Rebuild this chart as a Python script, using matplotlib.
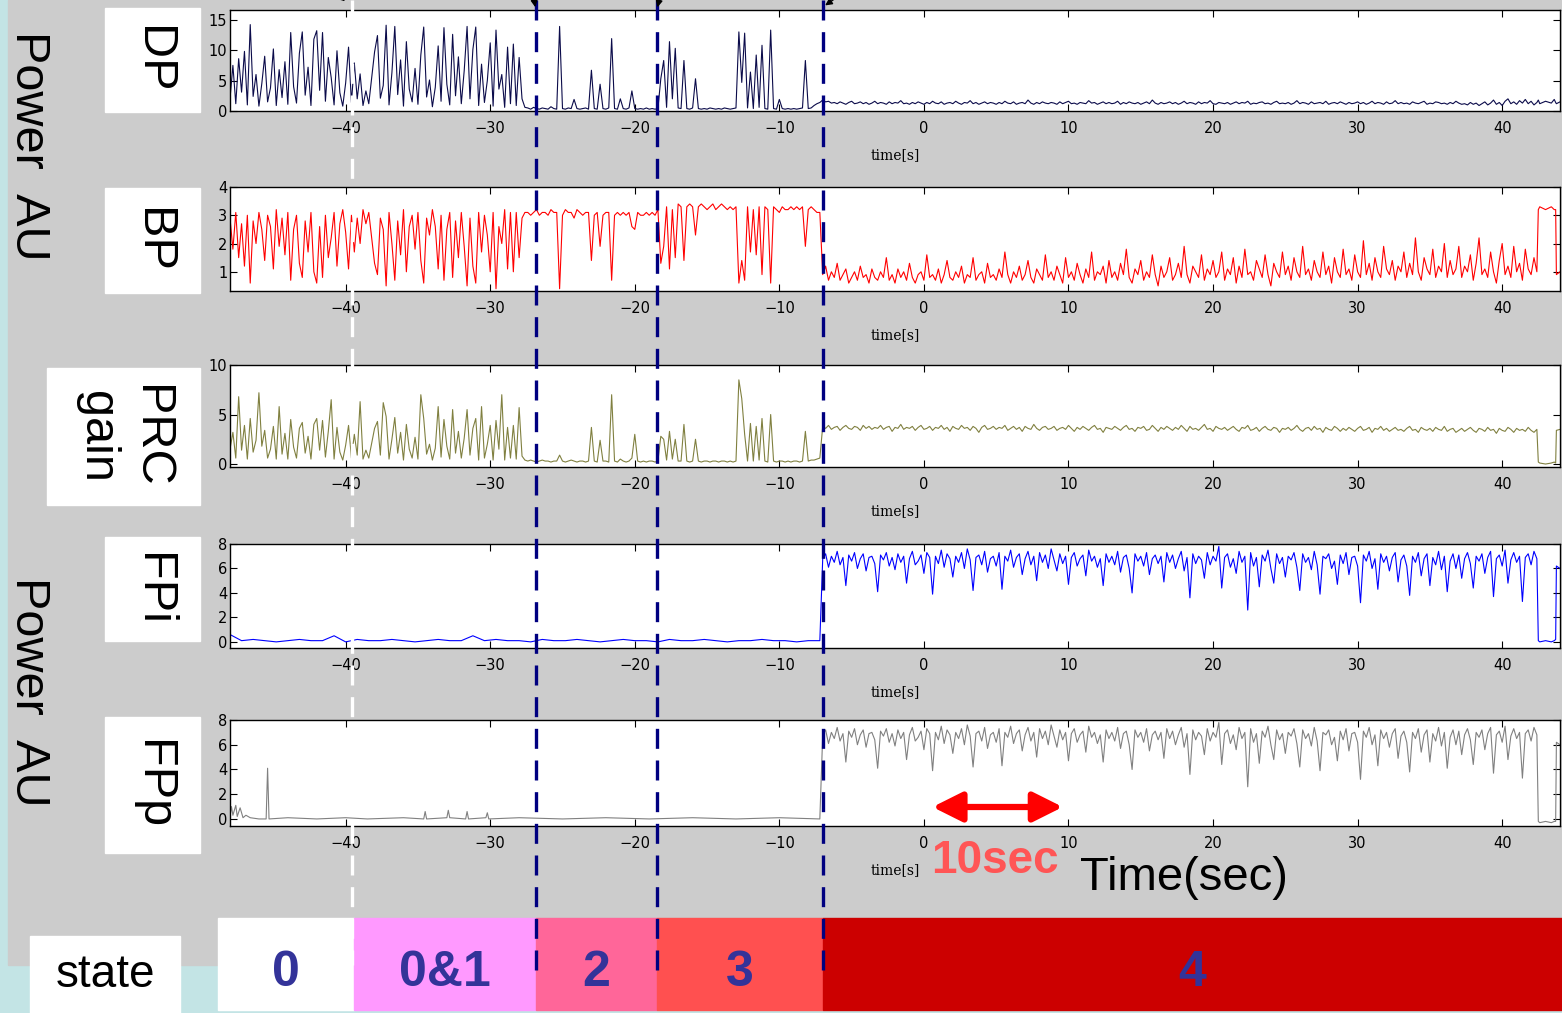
import numpy as np
import matplotlib.pyplot as plt
from matplotlib.patches import Rectangle

# ---------------- data (time in s) ----------------
# burst phase, -48.0 .. -27.6 s
dp_burst = [2.0, 7.5, 1.2, 8.6, 3.1, 9.8, 1.0, 14.2, 2.4, 6.0,
            0.8, 4.5, 9.0, 1.5, 3.8, 10.2, 0.9, 6.8, 2.2, 8.1,
            1.1, 12.9, 4.0, 1.3, 9.5, 13.0, 2.6, 7.2, 0.9, 11.8,
            13.2, 3.4, 12.9, 1.6, 8.8, 5.5, 1.0, 9.9, 3.0, 0.8,
            4.6, 10.5, 1.4, 7.9, 2.0, 6.1, 0.9, 3.3, 1.2, 5.4,
            9.7, 12.4, 2.1, 4.2, 14.1, 1.0, 6.3, 13.9, 2.7, 8.4,
            0.8, 11.4, 3.6, 1.5, 7.0, 1.1, 9.2, 13.8, 2.3, 5.1,
            0.7, 3.9, 10.7, 1.6, 13.7, 4.4, 1.0, 12.6, 2.5, 8.9,
            1.2, 6.6, 13.9, 2.0, 10.1, 13.8, 0.9, 7.7, 1.4, 5.0,
            11.2, 0.8, 13.3, 3.6, 6.0, 0.6, 10.5, 1.2, 11.0, 0.9,
            8.8, 2.0, 0.6]
bp_burst = [2.9, 1.8, 3.1, 1.5, 2.7, 1.2, 3.0, 0.6, 2.8, 2.0,
            3.1, 2.5, 1.4, 3.0, 2.6, 1.1, 3.2, 1.9, 2.9, 1.6,
            3.1, 0.7, 2.5, 3.0, 1.3, 0.8, 2.8, 1.7, 3.1, 1.0,
            0.6, 2.6, 0.8, 3.0, 1.5, 2.2, 3.1, 1.2, 2.7, 3.2,
            2.4, 1.1, 3.0, 1.7, 2.9, 2.0, 3.2, 2.7, 3.1, 2.2,
            1.3, 0.9, 2.9, 2.5, 0.5, 3.1, 2.0, 0.7, 2.8, 1.6,
            3.2, 1.0, 2.6, 3.0, 1.8, 3.1, 1.4, 0.6, 2.9, 2.3,
            3.2, 2.6, 1.1, 3.0, 0.7, 2.5, 3.1, 0.8, 2.8, 1.5,
            3.1, 1.9, 0.5, 2.9, 1.2, 0.6, 3.1, 1.7, 3.0, 2.3,
            1.0, 3.1, 0.4, 2.6, 2.0, 3.2, 1.1, 3.1, 1.0, 3.1,
            1.5, 2.9, 3.1]
prc_burst = [1.5, 3.2, 0.6, 6.8, 1.4, 3.9, 0.5, 4.6, 1.2, 2.4,
             7.2, 1.8, 3.4, 0.6, 1.5, 3.8, 0.5, 5.8, 1.0, 3.1,
             0.5, 4.5, 1.7, 0.6, 3.6, 4.2, 1.1, 2.8, 0.5, 4.0,
             4.6, 1.4, 4.4, 0.7, 3.3, 6.5, 0.5, 3.7, 1.2, 0.4,
             1.9, 3.9, 0.6, 3.0, 0.9, 6.3, 0.5, 1.4, 0.6, 2.1,
             3.6, 4.3, 0.9, 6.2, 4.8, 0.5, 2.5, 4.7, 1.1, 3.2,
             0.4, 4.0, 1.5, 0.6, 2.7, 0.5, 7.0, 4.6, 1.0, 2.0,
             0.4, 1.6, 5.8, 0.7, 4.5, 1.8, 0.5, 5.5, 1.1, 3.3,
             0.6, 2.6, 5.5, 0.9, 3.6, 4.6, 0.4, 5.8, 0.6, 2.0,
             3.9, 0.4, 4.4, 1.5, 7.0, 0.4, 3.7, 0.6, 3.9, 0.5,
             5.7, 0.8, 0.4]

# quiet phase with isolated events, -27.4 .. -7.2 s
dp_quiet = [0.5, 0.3, 0.6, 0.4, 0.3, 0.5, 0.4, 0.3, 0.7, 0.4,
            0.3, 13.9, 0.4, 0.3, 0.5, 0.4, 1.9, 0.4, 0.3, 0.4,
            0.5, 0.3, 6.7, 0.4, 0.3, 4.4, 0.4, 0.3, 0.5, 11.9,
            0.4, 0.3, 2.0, 0.4, 0.3, 0.5, 3.3, 0.4, 0.3, 0.4,
            0.3, 0.5, 0.3, 0.4, 0.3, 0.4, 5.3, 8.3, 0.6, 11.4,
            2.0, 10.3, 0.5, 0.4, 8.3, 0.4, 0.3, 0.5, 5.3, 0.4,
            0.3, 0.4, 0.3, 0.5, 0.4, 0.3, 0.4, 0.3, 0.5, 0.4,
            0.3, 0.4, 0.5, 13.0, 4.7, 12.8, 0.5, 6.4, 0.4, 9.2,
            0.6, 10.8, 0.4, 0.3, 13.3, 0.4, 0.3, 1.9, 0.4, 0.3,
            0.4, 0.3, 0.4, 0.3, 0.4, 0.5, 8.3, 0.4, 0.5, 0.9,
            1.2, 1.4]
bp_quiet = [3.1, 3.0, 3.1, 3.2, 3.0, 3.1, 3.1, 3.0, 3.2, 3.1,
            3.1, 0.4, 3.0, 3.2, 3.1, 3.1, 2.9, 3.2, 3.1, 3.0,
            3.1, 3.1, 1.4, 3.0, 3.1, 1.9, 3.0, 3.1, 3.1, 0.7,
            3.0, 3.1, 3.0, 3.1, 3.0, 3.1, 2.6, 2.5, 3.1, 3.0,
            3.0, 3.1, 3.0, 3.1, 3.0, 3.2, 1.3, 1.9, 3.3, 1.1,
            3.2, 1.5, 3.4, 3.3, 1.4, 3.3, 3.4, 3.3, 2.3, 3.3,
            3.4, 3.3, 3.2, 3.3, 3.4, 3.2, 3.3, 3.4, 3.3, 3.2,
            3.3, 3.2, 3.3, 0.6, 1.4, 0.7, 3.3, 1.7, 3.2, 1.6,
            3.3, 0.9, 3.3, 3.2, 0.6, 3.3, 3.2, 3.1, 3.3, 3.2,
            3.2, 3.3, 3.2, 3.3, 3.2, 3.3, 1.9, 3.2, 3.3, 3.2,
            3.1, 3.1]
prc_quiet = [0.3, 0.4, 0.3, 0.2, 0.3, 0.4, 0.3, 0.3, 0.2, 0.3,
             0.3, 0.9, 0.3, 0.2, 0.3, 0.4, 0.3, 0.2, 0.3, 0.3,
             0.2, 0.3, 3.7, 0.3, 0.2, 2.4, 0.3, 0.3, 0.2, 7.0,
             0.3, 0.2, 0.5, 0.3, 0.2, 0.3, 0.6, 3.0, 0.3, 0.2,
             0.3, 0.2, 0.3, 0.3, 0.2, 0.3, 2.8, 2.5, 0.4, 3.3,
             0.5, 2.5, 0.3, 0.3, 4.0, 0.3, 0.2, 0.3, 2.5, 0.3,
             0.2, 0.3, 0.3, 0.2, 0.3, 0.3, 0.2, 0.3, 0.3, 0.2,
             0.3, 0.2, 0.3, 8.5, 6.6, 3.0, 0.3, 4.1, 0.3, 3.8,
             0.4, 4.6, 0.3, 0.2, 5.0, 0.3, 0.2, 0.3, 0.3, 0.2,
             0.3, 0.2, 0.3, 0.3, 0.2, 0.3, 3.3, 0.3, 0.4, 0.4,
             0.5, 0.6]

# state 4, -7.0 .. 42.4 s
dp_state4 = [1.8, 1.5, 1.6, 1.3, 1.4, 1.2, 1.5, 1.3, 1.1, 1.4, 1.6, 1.2, 1.3, 1.5, 1.2, 1.4, 1.1, 1.3, 1.6, 1.2,
             1.4, 1.3, 1.1, 1.5, 1.2, 1.4, 1.3, 1.7, 1.2, 1.3, 1.1, 1.4, 1.2, 1.5, 1.3, 1.1, 1.4, 1.2, 1.6, 1.3,
             1.2, 1.5, 1.1, 1.3, 1.4, 1.2, 1.6, 1.3, 1.1, 1.4, 1.3, 1.7, 1.2, 1.4, 1.1, 1.3, 1.5, 1.2, 1.4, 1.3,
             1.1, 1.4, 1.2, 1.6, 1.3, 1.2, 1.5, 1.1, 1.3, 1.4, 1.2, 1.8, 1.3, 1.1, 1.4, 1.2, 1.5, 1.3, 1.2, 1.4,
             1.3, 1.1, 1.5, 1.2, 1.4, 1.6, 1.2, 1.3, 1.1, 1.4, 1.3, 1.2, 1.7, 1.3, 1.4, 1.1, 1.3, 1.5, 1.2, 1.4,
             1.2, 1.3, 1.6, 1.1, 1.4, 1.2, 1.5, 1.3, 1.2, 1.4, 1.1, 1.3, 1.5, 1.2, 1.8, 1.3, 1.1, 1.4, 1.2, 1.3,
             1.5, 1.2, 1.4, 1.1, 1.3, 1.6, 1.2, 1.4, 1.3, 1.1, 1.5, 1.2, 1.4, 1.3, 1.7, 1.2, 1.1, 1.4, 1.3, 1.2,
             1.4, 1.1, 1.3, 1.5, 1.2, 1.4, 1.3, 1.6, 1.1, 1.3, 1.2, 1.4, 1.5, 1.2, 1.3, 1.1, 1.4, 1.6, 1.2, 1.3,
             1.2, 1.4, 1.1, 1.3, 1.7, 1.2, 1.4, 1.3, 1.1, 1.5, 1.2, 1.3, 1.4, 1.2, 1.6, 1.1, 1.3, 1.4, 1.2, 1.5,
             1.3, 1.1, 1.4, 1.2, 1.3, 1.5, 1.2, 1.4, 1.1, 1.3, 1.6, 1.2, 1.4, 1.3, 1.1, 1.5, 1.2, 1.3, 1.7, 1.2,
             1.4, 1.2, 1.3, 1.1, 1.5, 1.3, 1.2, 1.4, 1.6, 1.1, 1.3, 1.2, 1.5, 1.4, 1.2, 1.3, 1.1, 1.4, 1.2, 1.6,
             1.3, 1.1, 1.2, 1.0, 1.4, 1.1, 1.3, 0.9, 1.2, 1.5, 1.0, 1.3, 1.8, 1.1, 1.4, 0.9, 1.6, 2.0, 1.2, 1.5,
             1.1, 1.7, 1.3, 1.9, 1.2, 1.6, 1.0, 1.4]
bp_state4 = [0.9, 1.2, 0.7, 1.0, 0.8, 1.3, 0.7, 0.9, 1.1, 0.6, 0.8, 1.0, 0.7, 1.2, 0.8, 0.9, 0.6, 1.1, 0.8, 0.7,
             1.0, 0.8, 1.5, 0.7, 0.9, 0.6, 1.1, 0.8, 1.0, 0.7, 1.3, 0.8, 0.6, 0.9, 1.0, 0.7, 1.6, 0.8, 0.9, 0.7,
             1.1, 0.6, 0.9, 1.4, 0.8, 0.7, 1.0, 0.8, 1.2, 0.6, 0.9, 0.8, 1.5, 0.7, 0.9, 1.0, 0.6, 1.3, 0.8, 0.9,
             0.7, 1.1, 0.8, 1.7, 0.9, 0.6, 1.0, 0.8, 1.2, 0.7, 0.9, 1.4, 0.8, 0.6, 1.1, 0.9, 0.7, 1.6, 0.8, 1.0,
             0.7, 1.2, 0.9, 0.6, 1.5, 0.8, 1.0, 0.7, 1.3, 0.9, 0.6, 1.1, 0.8, 1.7, 0.7, 1.0, 0.9, 1.2, 0.6, 1.4,
             0.8, 1.0, 0.7, 1.3, 0.9, 1.8, 0.8, 0.6, 1.1, 0.9, 1.4, 0.7, 1.0, 0.8, 1.6, 0.9, 0.5, 1.2, 0.8, 1.0,
             1.5, 0.7, 0.9, 1.3, 0.8, 1.9, 0.9, 0.6, 1.2, 1.0, 0.8, 1.6, 0.7, 1.1, 0.9, 1.4, 0.8, 1.0, 1.7, 0.7,
             1.1, 0.9, 1.5, 0.6, 1.2, 0.8, 1.8, 0.9, 1.0, 0.7, 1.4, 1.1, 0.8, 1.6, 0.9, 0.5, 1.3, 1.0, 0.8, 1.7,
             0.9, 1.2, 0.7, 1.5, 1.0, 0.8, 1.9, 0.9, 1.1, 0.7, 1.4, 1.0, 0.8, 1.7, 0.9, 1.2, 0.6, 1.5, 1.0, 0.8,
             1.8, 0.9, 1.1, 0.7, 1.6, 1.0, 0.8, 2.1, 0.9, 1.3, 0.7, 1.5, 1.0, 0.8, 1.9, 1.1, 0.9, 1.4, 0.7, 1.2,
             1.0, 1.7, 0.8, 1.3, 0.9, 2.2, 1.0, 0.7, 1.5, 1.1, 0.9, 1.8, 0.8, 1.2, 1.0, 2.0, 0.8, 1.4, 0.9, 1.1,
             1.9, 0.8, 1.2, 1.0, 1.6, 0.7, 1.3, 2.2, 0.9, 1.1, 0.8, 1.7, 1.0, 0.6, 1.4, 2.0, 0.9, 1.2, 0.8, 1.9,
             1.0, 1.3, 0.7, 1.8, 1.1, 0.9, 1.5, 1.0]
prc_state4 = [3.8, 3.6, 3.9, 3.5, 3.7, 3.8, 3.4, 3.7, 3.9, 3.6, 3.5, 3.8, 3.7, 3.4, 3.9, 3.6, 3.8, 3.5, 3.7, 3.6,
              3.9, 3.5, 3.7, 3.8, 3.3, 3.7, 3.6, 4.0, 3.5, 3.7, 3.6, 3.8, 3.4, 3.7, 3.9, 3.5, 3.6, 3.8, 3.4, 3.7,
              3.6, 3.9, 3.5, 3.7, 3.3, 3.8, 3.6, 3.5, 3.9, 3.6, 3.7, 3.4, 3.8, 3.6, 3.2, 3.7, 3.9, 3.5, 3.6, 3.8,
              3.5, 3.7, 3.6, 3.9, 3.4, 3.6, 3.8, 3.5, 3.7, 3.3, 3.8, 3.6, 3.5, 4.0, 3.6, 3.4, 3.7, 3.8, 3.5, 3.6,
              3.8, 3.4, 3.6, 3.7, 3.5, 3.9, 3.6, 3.3, 3.7, 3.5, 3.8, 3.6, 3.4, 3.7, 3.9, 3.5, 3.6, 3.2, 3.7, 3.6,
              3.5, 3.8, 3.6, 3.4, 3.7, 3.9, 3.5, 3.6, 3.3, 3.7, 3.6, 3.8, 3.4, 3.5, 3.9, 3.6, 3.3, 3.7, 3.5, 3.8,
              3.6, 3.4, 3.7, 3.5, 3.9, 3.6, 3.3, 3.8, 3.5, 3.6, 3.4, 3.7, 4.0, 3.5, 3.6, 3.3, 3.8, 3.6, 3.5, 3.7,
              3.4, 3.6, 3.8, 3.5, 3.3, 3.7, 3.6, 3.9, 3.4, 3.5, 3.7, 3.3, 3.6, 3.8, 3.5, 3.4, 3.7, 3.6, 3.2, 3.6,
              3.5, 3.7, 3.4, 3.6, 3.9, 3.5, 3.3, 3.6, 3.7, 3.4, 3.8, 3.5, 3.6, 3.2, 3.7, 3.5, 3.4, 3.8, 3.6, 3.3,
              3.6, 3.4, 3.7, 3.5, 3.3, 3.6, 3.8, 3.4, 3.5, 3.7, 3.2, 3.6, 3.5, 3.8, 3.4, 3.6, 3.3, 3.5, 3.7, 3.4,
              3.5, 3.3, 3.6, 3.8, 3.4, 3.5, 3.2, 3.7, 3.5, 3.4, 3.6, 3.3, 3.7, 3.5, 3.4, 3.8, 3.3, 3.5, 3.6, 3.2,
              3.4, 3.6, 3.3, 3.5, 3.7, 3.4, 3.2, 3.6, 3.5, 3.3, 3.7, 3.4, 3.5, 3.1, 3.6, 3.4, 3.3, 3.7, 3.5, 3.2,
              3.6, 3.4, 3.5, 3.3, 3.7, 3.4, 3.2, 3.5]
fpi_state4 = [6.8, 7.2, 6.1, 7.0, 6.5, 7.4, 6.3, 6.9, 4.6, 7.1, 6.6, 7.3, 6.0, 6.8, 7.2, 5.8, 6.9, 7.0, 6.4, 4.1,
              7.1, 6.7, 7.3, 6.2, 6.9, 5.9, 7.2, 6.5, 7.0, 4.8, 6.8, 7.4, 6.3, 6.6, 7.1, 5.6, 7.3, 6.9, 3.9, 7.0,
              6.4, 7.5, 6.1, 7.2, 6.8, 5.3, 7.0, 6.5, 7.3, 6.0, 7.6, 6.7, 4.2, 6.9, 7.1, 6.3, 7.4, 5.7, 6.8, 7.0,
              6.2, 7.3, 4.3, 7.0, 6.6, 7.5, 6.1, 6.9, 7.2, 5.5, 6.8, 7.4, 6.3, 7.0, 5.0, 7.3, 6.5, 7.1, 6.0, 7.6,
              6.7, 5.8, 7.2, 6.4, 7.0, 4.7, 6.9, 7.3, 6.2, 6.8, 7.1, 5.4, 7.5, 6.6, 7.0, 6.1, 6.8, 4.6, 7.2, 6.5,
              7.0, 6.3, 7.4, 5.7, 6.9, 7.1, 6.0, 4.0, 7.2, 6.6, 7.0, 6.2, 7.3, 5.5, 6.8, 7.1, 6.4, 7.0, 4.9, 7.3,
              6.5, 7.1, 6.0, 6.8, 7.4, 5.8, 6.9, 3.6, 7.2, 6.4, 7.0, 6.7, 5.2, 7.3, 6.3, 7.0, 6.6, 7.8, 4.4, 6.9,
              7.2, 6.1, 6.8, 5.6, 7.4, 6.5, 7.0, 2.6, 7.3, 6.2, 6.9, 4.5, 7.1, 6.6, 7.5, 6.0, 4.8, 7.2, 6.4, 6.9,
              5.3, 7.0, 6.7, 7.3, 6.1, 4.2, 7.2, 6.5, 6.9, 5.9, 7.4, 6.3, 3.9, 7.0, 6.8, 7.2, 6.0, 6.6, 4.7, 7.1,
              6.4, 7.3, 5.5, 6.9, 7.0, 6.2, 3.2, 7.1, 6.6, 7.4, 6.0, 6.8, 4.3, 7.2, 6.5, 7.0, 5.8, 6.9, 7.3, 4.9,
              6.7, 7.1, 6.2, 3.8, 7.0, 6.5, 7.3, 5.4, 6.8, 7.2, 4.6, 6.9, 6.3, 7.4, 5.9, 7.0, 4.1, 6.6, 7.2, 6.0,
              7.1, 5.2, 6.8, 7.3, 6.4, 4.4, 7.0, 6.6, 7.2, 5.6, 6.9, 7.4, 3.7, 6.8, 7.1, 6.2, 7.5, 4.8, 6.7, 7.3,
              6.5, 7.0, 3.3, 6.9, 7.2, 6.3, 7.4, 6.8]
fpp_state4 = list(fpi_state4)   # FPp trace is a copy of FPi in the reference

# FPi / FPp before state 4
fpi_pre = [0.6, 0.1, 0.2, 0.1, 0.0, 0.1, 0.2, 0.1, 0.1, 0.5,
           0.0, 0.2, 0.1, 0.1, 0.2, 0.1, 0.0, 0.1, 0.2, 0.1,
           0.1, 0.5, 0.1, 0.2, 0.1, 0.1, 0.0, 0.2, 0.1, 0.1,
           0.2, 0.1, 0.0, 0.1, 0.2, 0.1, 0.1, 0.0, 0.2, 0.1,
           0.1, 0.2, 0.1, 0.0, 0.1, 0.1, 0.2, 0.1, 0.1, 0.0,
           0.1, 0.1]
fpp_pre_t = [-48.0, -47.9, -47.8, -47.6, -47.5, -47.3, -47.1, -46.9, -46.6, -46.0,
             -45.5, -45.4, -45.3, -44.0, -42.0, -40.0, -38.5, -36.0, -34.6, -34.5,
             -34.4, -33.0, -32.9, -32.8, -31.7, -31.6, -31.5, -30.3, -30.2, -30.1,
             -28.0, -25.0, -22.0, -19.0, -16.0, -13.0, -10.0, -7.2]
fpp_pre_v = [0.2, 1.0, 0.3, 1.1, 0.2, 0.9, 0.1, 0.3, 0.1, 0.0,
             0.0, 4.1, 0.0, 0.1, 0.0, 0.1, 0.0, 0.1, 0.0, 0.6,
             0.0, 0.1, 0.7, 0.1, 0.0, 0.6, 0.0, 0.1, 0.5, 0.0,
             0.1, 0.0, 0.1, 0.0, 0.1, 0.0, 0.1, 0.0]

# end of the record
tail_t = [42.5, 42.6, 43.0, 43.4, 43.6, 43.7, 43.75, 44.0]
dp_tail = [1.8, 1.2, 1.6, 1.3, 1.9, 1.4, 1.2, 1.5]
bp_tail = [3.2, 3.3, 3.2, 3.3, 3.2, 3.2, 0.9, 1.0]
prc_tail = [0.2, 0.1, 0.0, 0.1, 0.2, 0.1, 3.4, 3.5]
fpi_tail = [0.1, 0.0, 0.1, 0.0, 0.1, 0.2, 6.2, 6.0]
fpp_tail = [-0.2, -0.3, -0.2, -0.3, -0.2, -0.2, 6.2, 6.0]

# state transitions
onset_time = -39.58
event_times = [-26.85, -18.48, -6.99]
state_edges = [-48.86, -39.45, -26.85, -18.48, -6.99, 44.15]
state_labels = ['0', '0&1', '2', '3', '4']
state_colors = ['#ffffff', '#ff99ff', '#ff6699', '#ff5050', '#cc0000']
ten_sec = (0.4, 9.8)

x_ticks = [-40, -30, -20, -10, 0, 10, 20, 30, 40]
x_lim = (-48.0, 44.0)

# ---------------- layout (pixels of the 1562x1013 figure) ----------------
W_PX, H_PX = 1562, 1013
AX_L, AX_R = 230, 1560


def fig_rect(x0, y0, x1, y1):
    return [x0 / W_PX, 1 - y1 / H_PX, (x1 - x0) / W_PX, (y1 - y0) / H_PX]


def series(burst, quiet, post, tail):
    t = np.concatenate([np.linspace(-48.0, -27.6, len(burst)),
                        np.linspace(-27.4, -7.2, len(quiet)),
                        np.linspace(-7.0, 42.4, len(post)), tail_t])
    return t, np.concatenate([burst, quiet, post, tail])


t_fpi_pre = np.linspace(-48.0, -7.2, len(fpi_pre))
t_post = np.linspace(-7.0, 42.4, len(fpi_state4))

dp_t, dp_v = series(dp_burst, dp_quiet, dp_state4, dp_tail)
bp_t, bp_v = series(bp_burst, bp_quiet, bp_state4, bp_tail)
prc_t, prc_v = series(prc_burst, prc_quiet, prc_state4, prc_tail)
fpi_t = np.concatenate([t_fpi_pre, t_post, tail_t])
fpi_v = np.concatenate([fpi_pre, fpi_state4, fpi_tail])
fpp_t = np.concatenate([fpp_pre_t, t_post, tail_t])
fpp_v = np.concatenate([fpp_pre_v, fpp_state4, fpp_tail])

panels = [
    (dp_t, dp_v, '#0b0b4a', (0, 16.6), [0, 5, 10, 15], (10, 111)),
    (bp_t, bp_v, '#ff0000', (0.32, 4.0), [1, 2, 3, 4], (187, 291)),
    (prc_t, prc_v, '#808040', (-0.3, 10.0), [0, 5, 10], (365, 467)),
    (fpi_t, fpi_v, '#0000ff', (-0.5, 8.0), [0, 2, 4, 6, 8], (544, 648)),
    (fpp_t, fpp_v, '#808080', (-0.57, 8.0), [0, 2, 4, 6, 8], (720, 826)),
]

fig = plt.figure(figsize=(W_PX / 100, H_PX / 100), dpi=100, facecolor='#c3e4e5')
fig.patches.append(Rectangle((8 / W_PX, 1 - 965 / H_PX), 1, 965 / H_PX,
                             transform=fig.transFigure, color='#cccccc', zorder=-2))

for t, v, col, ylim, yt, (top, bot) in panels:
    ax = fig.add_axes(fig_rect(AX_L, top, AX_R, bot), zorder=1)
    ax.plot(t, v, color=col, lw=0.8)
    ax.set_xlim(*x_lim)
    ax.set_ylim(*ylim)
    ax.set_xticks(x_ticks)
    ax.set_yticks(yt)
    ax.tick_params(direction='in', top=True, right=True, length=5, width=0.8,
                   labelsize=10.5, colors='black')
    ax.tick_params(axis='x', pad=7)
    ax.tick_params(axis='y', pad=2)
    for s in ax.spines.values():
        s.set_linewidth(1.0)
    ax.annotate('time[s]', xy=(0.5, 0), xycoords='axes fraction', xytext=(0, -32),
                textcoords='offset points', ha='center', va='center',
                fontsize=10, family='DejaVu Serif')

# overlay: x in seconds (same scale as the panels), y in figure pixels
ov = fig.add_axes([0, 0, 1, 1], zorder=10)
span = x_lim[1] - x_lim[0]
L, Wd = AX_L / W_PX, (AX_R - AX_L) / W_PX
ov.set_xlim(x_lim[0] - span * L / Wd, x_lim[0] + span * (1 - L) / Wd)
ov.set_ylim(H_PX, 0)
ov.axis('off')

# state bar
for i, (lab, col) in enumerate(zip(state_labels, state_colors)):
    x0, x1 = state_edges[i], state_edges[i + 1]
    ov.add_patch(Rectangle((x0, 918), x1 - x0, 92, color=col, zorder=1))
    ov.text((x0 + x1) / 2, 973, lab, ha='center', va='center', fontsize=36,
            fontweight='bold', color='#333399', family='Liberation Sans', zorder=2)

# transition lines
ov.plot([onset_time, onset_time], [0, 965], color='white', lw=2.4,
        dashes=(6, 3.5), zorder=3)
for et in event_times:
    ov.plot([et, et], [0, 975], color='#000080', lw=2.4, dashes=(6, 3.5), zorder=3)

# arrows coming from above the frame
for head, tail, hy in [(-39.9, -41.1, 3), (event_times[0], -27.1, 10),
                       (event_times[1], -18.1, 10), (event_times[2], -5.1, 7)]:
    ov.annotate('', xy=(head, hy), xytext=(tail, -12),
                arrowprops=dict(arrowstyle='-|>', color='black', lw=1,
                                mutation_scale=10), annotation_clip=False)

# 10 s scale arrow and texts
ov.annotate('', xy=(ten_sec[1], 807), xytext=(ten_sec[0], 807),
            arrowprops=dict(arrowstyle='<|-|>,head_length=0.9,head_width=0.45',
                            color='#ff0000', lw=4.5, mutation_scale=20))
ov.text(4.9, 861, '10sec', ha='center', va='center', fontsize=33, fontweight='bold',
        color='#ff5555', family='Liberation Sans')
ov.text(18.0, 878, 'Time(sec)', ha='center', va='center', fontsize=34,
        color='black', family='Liberation Sans')

# label boxes on the left (figure pixels)
boxes = [('DP', (105, 8, 200, 112)), ('BP', (105, 188, 200, 293)),
         ('PRC\ngain', (47, 368, 200, 505)), ('FPi', (105, 537, 200, 641)),
         ('FPp', (105, 717, 200, 853))]
for lab, (x0, y0, x1, y1) in boxes:
    fig.patches.append(Rectangle((x0 / W_PX, 1 - y1 / H_PX), (x1 - x0) / W_PX,
                                 (y1 - y0) / H_PX, transform=fig.transFigure,
                                 color='white', zorder=-1))
    fig.text((x0 + x1) / 2 / W_PX, 1 - (y0 + y1) / 2 / H_PX, lab, rotation=270,
             ha='center', va='center', fontsize=35, family='Liberation Sans',
             linespacing=1.25)

fig.patches.append(Rectangle((30 / W_PX, 0), 150 / W_PX, 77 / H_PX,
                             transform=fig.transFigure, color='white', zorder=-1))
fig.text(105 / W_PX, 1 - 975 / H_PX, 'state', ha='center', va='center',
         fontsize=33, family='Liberation Sans')

for yc in (146, 692):
    fig.text(28 / W_PX, 1 - yc / H_PX, 'Power  AU', rotation=270, ha='center',
             va='center', fontsize=35, family='Liberation Sans')

fig.savefig('out.png', dpi=100, facecolor=fig.get_facecolor())
